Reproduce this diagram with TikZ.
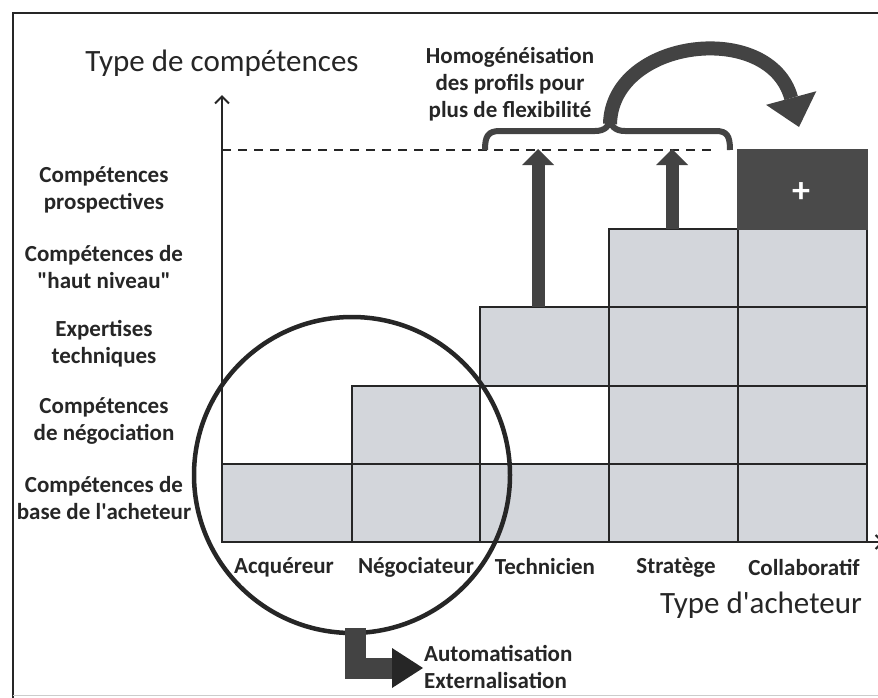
\documentclass[tikz,border=0pt]{standalone}
\usepackage{fontspec}
\setmainfont{Carlito}
\usetikzlibrary{arrows.meta}
\definecolor{ink}{HTML}{262626}
\definecolor{cellgray}{HTML}{D3D6DB}
\definecolor{darkfill}{HTML}{4A4A4A}
\definecolor{arrowgray}{HTML}{434343}
\begin{document}
\begin{tikzpicture}[x=1pt,y=-1pt,
  lbl/.style={font=\bfseries\fontsize{23}{27}\selectfont, text=ink, align=center, inner sep=0pt},
  axistitle/.style={font=\fontsize{31}{36}\selectfont, text=ink, inner sep=0pt},
  cell/.style={fill=cellgray, draw=ink, line width=1.6pt},
  emptycell/.style={fill=white, draw=ink, line width=1.6pt},
  darkcell/.style={fill=darkfill, draw=darkfill, line width=1.6pt},
  axis/.style={draw=ink, line width=2pt},
  bigarrow/.style={draw=arrowgray, line width=13pt},
]
\useasboundingbox (0,0) rectangle (878,697);
\fill[white] (0,0) rectangle (878,697);

% outer frame
\draw[ink, line width=2pt] (13,700) -- (13,13) -- (890,13);
\draw[black!20, line width=1pt] (13,695) -- (878,695);

% skill cells per buyer type
\foreach \xa/\xb/\ya/\yb in {
  222/352/464/542,
  352/480/464/542, 352/480/386/464,
  480/609/464/542, 480/609/307/386,
  609/738/464/542, 609/738/386/464, 609/738/307/386, 609/738/229/307,
  738/867/464/542, 738/867/386/464, 738/867/307/386, 738/867/229/307}
  \draw[cell] (\xa,\ya) rectangle (\xb,\yb);
\draw[emptycell] (480,386) rectangle (609,464);
\draw[darkcell] (738,150) rectangle (867,229);
\node[font=\bfseries\fontsize{36}{36}\selectfont, text=white, inner sep=0pt] (plus) at (801,193) {+};

% axes
\coordinate (origin) at (222,542);
\coordinate (ytop) at (222,95);
\coordinate (xend) at (884,542);
\draw[axis, -{Straight Barb[length=7pt,width=14pt]}] (origin) -- (ytop);
\draw[axis, -{Straight Barb[length=7pt,width=14pt]}] (origin) -- (xend);

% target level
\coordinate (dashstart) at (222,150);
\coordinate (dashend) at (713,150);
\draw[ink, line width=2.2pt, dash pattern=on 9pt off 7pt] (dashstart) -- (dashend);

% upgrade arrows
\coordinate (techtop) at (538,307);
\coordinate (techgoal) at (538,149);
\coordinate (strattop) at (672,229);
\coordinate (stratgoal) at (672,149);
\draw[bigarrow, line width=13pt, -{Triangle[width=32pt,length=16pt,line width=0pt]}] (techtop) -- (techgoal);
\draw[bigarrow, line width=13pt, -{Triangle[width=32pt,length=16pt,line width=0pt]}] (strattop) -- (stratgoal);

% brace over the profiles
\coordinate (bracetip) at (610,117);
\draw[arrowgray, line width=6pt]
  (485,150) .. controls (485,136) and (488,131) .. (500,131) -- (595,131)
  .. controls (605,131) and (610,126) .. (bracetip)
  .. controls (610,126) and (615,131) .. (625,131) -- (716,131)
  .. controls (727,131) and (730,136) .. (730,150);

% curved arrow towards the collaborative profile
\coordinate (curveend) at (799,127);
\draw[bigarrow, line width=14pt, -{Triangle[width=52pt,length=30pt,line width=0pt]}]
  (610,124) .. controls (612,38) and (770,20) .. (curveend);

% magnifier circle and its outlet
\node[draw=ink, line width=4.5pt, circle, minimum size=316pt, inner sep=0pt] (lens) at (352,475) {};
\coordinate (outlet) at (423,668);
\draw[draw=arrowgray, line width=21pt, -{Triangle[width=40pt,length=31pt,line width=0pt,fill=ink]}]
  (355,628) |- (outlet);

% axis titles
\node[axistitle] (ytitle) at (222,63) {Type de compétences};
\node[axistitle] (xtitle) at (761,605) {Type d\textquotesingle acheteur};

% skill levels
\node[lbl] (l5) at (104,190) {Compétences\\prospectives};
\node[lbl] (l4) at (104,267.5) {Compétences de\\\textquotedbl haut niveau\textquotedbl};
\node[lbl] (l3) at (104,343.5) {Expertises\\techniques};
\node[lbl] (l2) at (104,420.5) {Compétences\\de négociation};
\node[lbl] (l1) at (104,498) {Compétences de\\base de l\textquotesingle acheteur};

% buyer types
\node[lbl] (b1) at (284,567) {Acquéreur};
\node[lbl] (b2) at (416,567) {Négociateur};
\node[lbl] (b3) at (545,567) {Technicien};
\node[lbl] (b4) at (676,567) {Stratège};
\node[lbl] (b5) at (804,567) {Collaboratif};

% annotations
\node[lbl] (homog) at (510,84.5) {Homogénéisation\\des profils pour\\plus de flexibilité};
\node[lbl, align=left, anchor=west] (auto) at (424,666.5) {Automatisation\\Externalisation};
\end{tikzpicture}
\end{document}
